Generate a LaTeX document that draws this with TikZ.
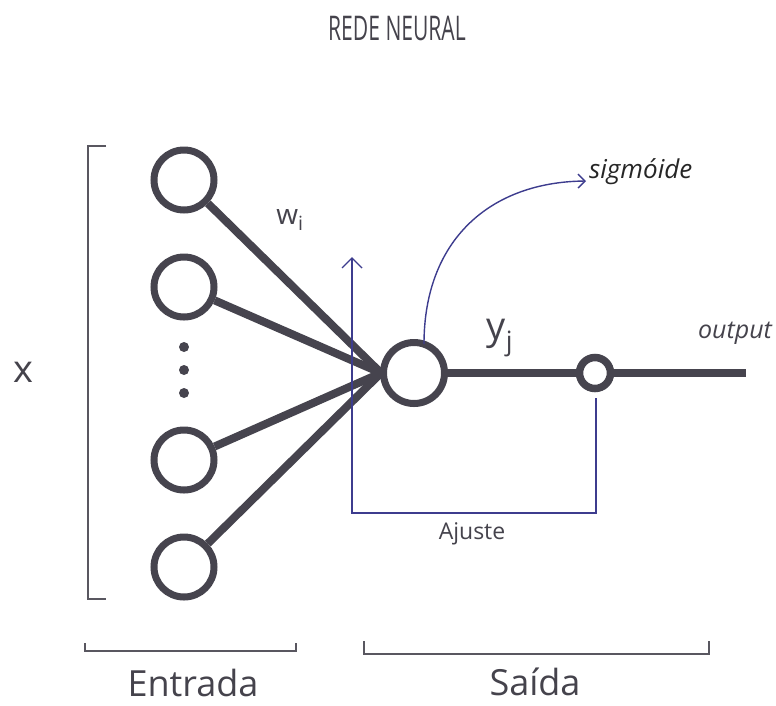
\documentclass[tikz,border=0pt]{standalone}
\usepackage{fontspec}
\setmainfont{Open Sans}
\usepackage{graphicx}
\usetikzlibrary{arrows.meta}
\definecolor{ink}{HTML}{46444E}
\definecolor{bluel}{HTML}{3D3C8E}
\definecolor{txt}{HTML}{45434C}
\tikzset{
  neuron/.style={circle,draw=ink,line width=7pt,minimum size=60pt,inner sep=0pt},
  smallneuron/.style={circle,draw=ink,line width=7.5pt,minimum size=31pt,inner sep=0pt},
  wire/.style={draw=ink,line width=8pt},
  fb/.style={draw=bluel,line width=1.4pt},
  brk/.style={draw=ink!90,line width=1.6pt},
  lbl/.style={text=txt,inner sep=0pt},
}
\begin{document}
\begin{tikzpicture}[x=1pt,y=-1pt]
\useasboundingbox (0,0) rectangle (776,705);
% title
\node[lbl] (title) at (397,28) {\fontsize{34}{34}\selectfont\scalebox{0.62}[1]{REDE NEURAL}};
% input neurons
\node[neuron] (i1) at (184,180) {};
\node[neuron] (i2) at (184,287) {};
\node[neuron] (i3) at (184,460) {};
\node[neuron] (i4) at (184,567) {};
\foreach \yy/\nm in {347/d1,370/d2,393/d3}
  \node[circle,fill=ink,minimum size=10pt,inner sep=0pt] (\nm) at (184,\yy) {};
% hidden neuron
\node[neuron,minimum size=61pt] (h) at (414,373) {};
\coordinate (hl) at (381,373);
\node[smallneuron] (s) at (595,373) {};
\coordinate (out) at (746,373);
% wires
\foreach \n in {i1,i2,i3,i4} \draw[wire] (\n) -- (hl);
\draw[wire] (h) -- (s);
\draw[wire] (s) -- (out);
% feedback loop
\coordinate (fbtop) at (352,257);
\coordinate (fbbl) at (352,513);
\coordinate (fbbr) at (596,513);
\coordinate (fbend) at (596,398);
\draw[fb,-{Straight Barb[length=10pt,width=20pt,line width=1.4pt]}] (fbend) -- (fbbr) -- (fbbl) -- (fbtop);
% sigmoid arrow
\coordinate (sgs) at (424,344);
\coordinate (sge) at (586,181);
\draw[fb,-{Straight Barb[length=7pt,width=14pt,line width=1.4pt]}] (sgs) .. controls (424,240) and (490,182) .. (sge);
% labels
\node[lbl,anchor=west,text=black!85] (sig) at (589,172) {\fontsize{26}{26}\selectfont\itshape sigmóide};
\node[lbl] (outl) at (735,333) {\fontsize{25}{25}\selectfont\itshape output};
\node[lbl] (wi) at (290,220) {\fontsize{28}{28}\selectfont w\textsubscript{i}};
\node[lbl] (yj) at (500,338) {\fontsize{38}{38}\selectfont y\textsubscript{j}};
\node[lbl] (aj) at (472,534) {\fontsize{23}{23}\selectfont Ajuste};
\node[lbl] (xl) at (23,372) {\fontsize{38}{38}\selectfont x};
% left bracket
\coordinate (b1) at (106,146);
\coordinate (b2) at (88,146);
\coordinate (b3) at (88,599);
\coordinate (b4) at (106,599);
\draw[brk] (b1) -- (b2) -- (b3) -- (b4);
% bottom brackets
\coordinate (e1) at (85,643);
\coordinate (e2) at (85,651);
\coordinate (e3) at (296,651);
\coordinate (e4) at (296,643);
\draw[brk] (e1) -- (e2) -- (e3) -- (e4);
\coordinate (s1) at (364,641);
\coordinate (s2) at (364,654);
\coordinate (s3) at (709,654);
\coordinate (s4) at (709,641);
\draw[brk] (s1) -- (s2) -- (s3) -- (s4);
\node[lbl] (ent) at (193,683) {\fontsize{36}{36}\selectfont Entrada};
\node[lbl] (sai) at (535,682) {\fontsize{36}{36}\selectfont Saída};
\end{tikzpicture}
\end{document}
